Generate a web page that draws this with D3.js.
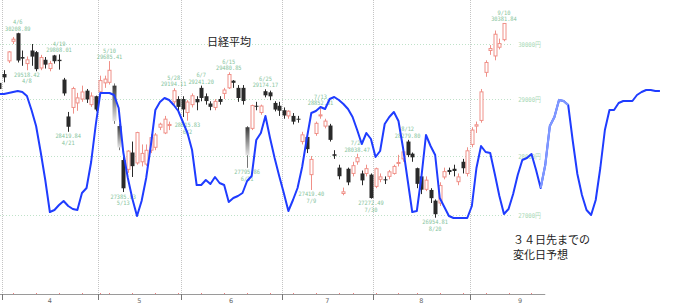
<!DOCTYPE html>
<html><head><meta charset="utf-8">
<script src="https://cdn.jsdelivr.net/npm/d3@7"></script>
<style>html,body{margin:0;padding:0;background:#fff;} svg{display:block;}</style>
</head><body>
<svg id="chart" width="690" height="307"></svg>
<script>
// ---- data ----
const dates = ["2021-03-31","2021-04-01","2021-04-02","2021-04-05","2021-04-06","2021-04-07","2021-04-08","2021-04-09","2021-04-12","2021-04-13","2021-04-14","2021-04-15","2021-04-16","2021-04-19","2021-04-20","2021-04-21","2021-04-22","2021-04-23","2021-04-26","2021-04-27","2021-04-28","2021-04-30",
"2021-05-06","2021-05-07","2021-05-10","2021-05-11","2021-05-12","2021-05-13","2021-05-14","2021-05-17","2021-05-18","2021-05-19","2021-05-20","2021-05-21","2021-05-24","2021-05-25","2021-05-26","2021-05-27","2021-05-28","2021-05-31",
"2021-06-01","2021-06-02","2021-06-03","2021-06-04","2021-06-07","2021-06-08","2021-06-09","2021-06-10","2021-06-11","2021-06-14","2021-06-15","2021-06-16","2021-06-17","2021-06-18","2021-06-21","2021-06-22","2021-06-23","2021-06-24","2021-06-25","2021-06-28","2021-06-29","2021-06-30",
"2021-07-01","2021-07-02","2021-07-05","2021-07-06","2021-07-07","2021-07-08","2021-07-09","2021-07-12","2021-07-13","2021-07-14","2021-07-15","2021-07-16","2021-07-19","2021-07-20","2021-07-21","2021-07-26","2021-07-27","2021-07-28","2021-07-29","2021-07-30",
"2021-08-02","2021-08-03","2021-08-04","2021-08-05","2021-08-06","2021-08-10","2021-08-11","2021-08-12","2021-08-13","2021-08-16","2021-08-17","2021-08-18","2021-08-19","2021-08-20","2021-08-23","2021-08-24","2021-08-25","2021-08-26","2021-08-27","2021-08-30","2021-08-31",
"2021-09-01","2021-09-02","2021-09-03","2021-09-06","2021-09-07","2021-09-08","2021-09-09","2021-09-10"];
const opens = [29290,29450,29690,30050,30200,29760,29640,29880,29850,29560,29710,29550,29790,29710,29350,28690,28850,28930,29000,29150,28900,29050,
29130,29290,29300,29240,28520,27930,27770,28060,27880,27900,27860,28100,28150,28500,28400,28530,28950,29000,
29000,28760,28900,29000,29200,29050,28920,28850,29000,29100,29200,29330,29200,29200,28500,28480,28880,28760,29140,29120,28930,28880,
28800,28700,28700,28650,28250,28330,27680,28390,28700,28520,28530,28030,27800,27360,27780,27700,27900,27700,27700,27680,
27480,27600,27600,27650,27700,27880,27950,28250,28040,27790,27650,27430,27420,27240,27200,27640,27760,27780,27560,27900,27700,
28200,28520,28620,29480,29880,29780,29940,30080];
const highs = [29360,29520,29870,30130,30208.89,29880,29770,30000,29870,29800,29760,29690,29800,29808.01,29380,28770,29220,29110,29240,29180,29120,29060,
29420,29420,29685.41,29280,28560,27990,28100,28250,28420,28200,28200,28380,28400,28580,28700,28600,29194.11,29050,
29050,28980,29100,29050,29241.20,29100,28960,29000,29050,29200,29480.85,29340,29250,29250,28520,28900,28950,28900,29174.17,29150,28960,28950,
28850,28800,28750,28700,28420,28400,28000,28600,28852.31,28650,28560,28100,27850,27460,27800,27900,28038.47,27750,27850,27700,
27800,27700,27650,27760,27850,28020,28100,28279.80,28060,27800,27700,27650,27450,27260,27550,27800,27800,27850,27700,27950,28150,
28500,28600,29180,29700,29980,30250,30100,30381.84];
const lows = [29170,29300,29650,30000,29660,29600,29518.42,29600,29500,29520,29550,29500,29640,29530,29060,28419.84,28740,28790,28950,28930,28860,28780,
29040,29200,29260,28560,28100,27385.03,27710,27640,27850,27820,27830,28050,28100,28450,28380,28450,28900,28780,
28680,28615.83,28850,28800,28960,28900,28800,28800,28900,29000,29180,29200,28950,28900,27795.86,28450,28800,28720,29030,28980,28780,28700,
28650,28650,28550,28580,28200,28050,27419.40,28350,28650,28480,28250,27950,27600,27330,27500,27650,27850,27500,27650,27272.49,
27450,27550,27520,27600,27680,27820,27900,27980,27900,27450,27350,27400,27200,26954.81,27150,27600,27680,27650,27500,27700,27650,
28150,28400,28580,29400,29800,29700,29900,30050];
const closes = [29178.80,29388.87,29854.00,30089.25,29696.63,29730.79,29708.98,29768.06,29538.73,29751.61,29620.99,29642.69,29683.37,29685.37,29100.38,28508.55,29188.17,29020.63,29126.23,28991.89,29053.97,28812.63,
29331.37,29357.82,29518.34,28608.59,28147.51,27448.01,28084.47,27824.83,28406.84,28044.45,28098.25,28317.83,28364.61,28553.98,28642.19,28549.01,29149.41,28860.08,
28814.34,28946.14,29058.11,28941.52,29019.24,28963.56,28860.80,28958.56,28948.73,29161.80,29441.30,29291.01,29018.33,28964.08,28010.93,28884.13,28874.89,28875.23,29066.18,29048.02,28812.61,28791.53,
28707.04,28783.28,28598.19,28643.21,28366.95,28118.03,27940.42,28569.02,28718.24,28608.49,28279.09,28003.08,27652.74,27388.16,27548.00,27833.29,27970.22,27581.66,27782.42,27283.59,
27781.02,27641.83,27584.08,27728.12,27820.04,27888.15,28070.51,28015.02,27977.15,27523.19,27424.47,27585.91,27281.17,27013.25,27494.24,27732.10,27724.80,27742.29,27641.14,27789.29,28089.54,
28451.02,28543.51,29128.11,29659.89,29916.14,30181.21,30008.19,30381.84];

// sharp-drop days drawn with a fading body
const fadeDates = ["5/11","5/12","6/21"];

// forecast line (indicator units), from 3/31 through 34 weekdays after the last candle
const forecast = [126,126,127,128,129,128,124,110,94,68,40,8,10,15,19,14,11,10,27,32,58,95,
127,127,127,125,112,68,42,21,4,19,42,74,110,118,122,120,115,109,
98,87,70,35,35,40,36,43,37,35,18,22,24,27,39,44,80,87,104,82,62,44,
27,9,20,32,53,81,107,109,113,111,121,123,120,116,111,103,90,76,87,81,
63,69,96,103,108,99,72,40,8,9,43,85,74,65,22,13,4,2,2,2,2,
14,52,74,68,67,46,24,6,
11,26,45,60,62,66,50,32,55,94,103,120,119,115,79,46,25,10,5,20,52,90,110,110,117,119,119,119,125,128,130,130,129,129];
const forecastDays = 34;

const markDates = ["4/6","4/8","4/19","4/21","5/10","5/13","5/28","6/2","6/7","6/15","6/21","6/25","7/9","7/13","7/27","7/30","8/12","8/20","9/10"];
const markValues = [30208.89,29518.42,29808.01,28419.84,29685.41,27385.03,29194.11,28615.83,29241.20,29480.85,27795.86,29174.17,27419.40,28852.31,28038.47,27272.49,28279.80,26954.81,30381.84];
const markKinds = ["high","low","high","low","high","low","high","low","high","high","low","high","low","high","high","low","high","low","high"];

const priceLevels = [30000,29000,28000,27000];
const priceLabels = ["30000円","29000円","28000円","27000円"];
const monthLabels = ["4","5","6","7","8","9"];
const title = "日経平均";
const note = ["３４日先までの","変化日予想"];

// ---- layout ----
const svg = d3.select("#chart");
const parse = d3.timeParse("%Y-%m-%d");
const candleDates = dates.map(parse);
const future = [];
let d = d3.timeDay.offset(candleDates[candleDates.length-1], 1);
while (future.length < forecastDays) {
  if (d.getDay() !== 0 && d.getDay() !== 6) future.push(d);
  d = d3.timeDay.offset(d, 1);
}
const allDates = candleDates.concat(future);
const nAll = allDates.length;

const x = d3.scaleLinear().domain([0, nAll - 1]).range([-0.6, -0.6 + (nAll - 1) * 4.587]);
const y = d3.scaleLog().domain([27000, 30000]).range([215, 44]);
const yF = d3.scaleLinear().domain([0, 130]).range([220, 90]);

const axisY = 294;
const gridRight = x(112);
const axisRight = x(119);

const defs = svg.append("defs");
const grad = defs.append("linearGradient").attr("id", "fade").attr("x1", 0).attr("x2", 0).attr("y1", 0).attr("y2", 1);
grad.append("stop").attr("offset", 0).attr("stop-color", "#3a3a3a");
grad.append("stop").attr("offset", 1).attr("stop-color", "#e4e4e4");

// vertical month grid
const monthStart = [];
for (let i = 1; i < nAll; i++) {
  if (allDates[i].getMonth() !== allDates[i-1].getMonth()) monthStart.push(i);
}
const gV = svg.append("g");
monthStart.filter(i => x(i) < axisRight).forEach(i => {
  const xx = Math.round(x(i - 0.5)) + 0.5;
  gV.append("line").attr("x1", xx).attr("x2", xx).attr("y1", 0).attr("y2", axisY)
    .attr("stroke", "#c4c4c4").attr("stroke-dasharray", "1,1");
});

// horizontal price grid
const gH = svg.append("g");
priceLevels.forEach((p, k) => {
  const yy = Math.round(y(p)) + 0.5;
  gH.append("line").attr("x1", 0).attr("x2", gridRight).attr("y1", yy).attr("y2", yy)
    .attr("stroke", "#bfe2c9").attr("stroke-dasharray", "1,2");
  gH.append("text").attr("x", gridRight + 5).attr("y", yy + 2.5)
    .attr("font-family", "DejaVu Sans Mono").attr("font-size", 6.5)
    .attr("fill", "#a8d8b6").attr("textLength", 23).attr("lengthAdjust", "spacingAndGlyphs")
    .text(priceLabels[k]);
});

// title
svg.append("text").attr("x", 229).attr("y", 46).attr("text-anchor", "middle")
  .attr("font-family", "Noto Sans CJK JP").attr("font-size", 11).attr("fill", "#222").text(title);

// candles
const upColor = "#f09088", downColor = "#2a2a2a";
const dateKey = candleDates.map(t => (t.getMonth()+1) + "/" + t.getDate());
const gC = svg.append("g");
dates.forEach((_, i) => {
  const cx = Math.round(x(i)) + 0.5;
  const o = opens[i], c = closes[i], h = highs[i], l = lows[i];
  const up = c >= o;
  const fade = fadeDates.includes(dateKey[i]);
  const col = up ? upColor : (fade ? "#777" : downColor);
  gC.append("line").attr("x1", cx).attr("x2", cx).attr("y1", y(h)).attr("y2", y(l))
    .attr("stroke", col).attr("stroke-width", 1);
  const yTop = y(Math.max(o, c)), yBot = y(Math.min(o, c));
  const hgt = Math.max(1, yBot - yTop);
  if (up) {
    gC.append("rect").attr("x", cx - 1.5).attr("y", yTop).attr("width", 3).attr("height", hgt)
      .attr("fill", "#fff").attr("stroke", upColor).attr("stroke-width", 1);
  } else {
    gC.append("rect").attr("x", cx - 2).attr("y", yTop).attr("width", 4).attr("height", hgt)
      .attr("fill", fade ? "url(#fade)" : downColor);
  }
});

// high / low marks
const gL = svg.append("g").attr("font-family", "DejaVu Sans Mono").attr("font-size", 6)
  .attr("fill", "#86c49c").attr("text-anchor", "middle");
markDates.forEach((md, k) => {
  const i = dateKey.indexOf(md);
  const cx = x(i);
  const v = markValues[k];
  const valTxt = v.toFixed(2);
  const yy = y(v);
  let yVal, yDate;
  if (markKinds[k] === "high") { yVal = yy - 2; yDate = yVal - 6.5; }
  else { yVal = yy + 6.5; yDate = yVal + 6.5; }
  gL.append("text").attr("x", cx).attr("y", yVal).attr("textLength", valTxt.length * 3.2)
    .attr("lengthAdjust", "spacingAndGlyphs").text(valTxt);
  gL.append("text").attr("x", cx).attr("y", yDate).attr("textLength", md.length * 3.2)
    .attr("lengthAdjust", "spacingAndGlyphs").text(md);
});

// forecast line
const line = d3.line().x((v, i) => x(i)).y(v => yF(v));
svg.append("path").datum(forecast).attr("d", line).attr("fill", "none")
  .attr("stroke", "#1f3cff").attr("stroke-width", 2).attr("stroke-linejoin", "round");
const lightFrom = 118, lightTo = 124;
svg.append("path").datum(forecast.slice(lightFrom, lightTo + 1))
  .attr("d", d3.line().x((v, i) => x(i + lightFrom)).y(v => yF(v)))
  .attr("fill", "none").attr("stroke", "#7f98ff").attr("stroke-width", 2.2);

// axis
const gA = svg.append("g");
gA.append("line").attr("x1", 0).attr("x2", axisRight).attr("y1", axisY + 0.5).attr("y2", axisY + 0.5)
  .attr("stroke", "#9a9a9a");
for (let i = 1; i < nAll; i++) {
  if (x(i) > axisRight) break;
  if (allDates[i].getDay() < allDates[i-1].getDay()) {
    const xx = Math.round(x(i)) + 0.5;
    gA.append("line").attr("x1", xx).attr("x2", xx).attr("y1", axisY - 1).attr("y2", axisY)
      .attr("stroke", "#f08080");
  }
}
monthStart.filter(i => x(i) < axisRight).forEach(i => {
  const xx = Math.round(x(i - 0.5)) + 0.5;
  gA.append("line").attr("x1", xx).attr("x2", xx).attr("y1", axisY).attr("y2", axisY + 6)
    .attr("stroke", "#777");
});
monthLabels.forEach(m => {
  const idx = d3.range(nAll).filter(i => String(allDates[i].getMonth() + 1) === m);
  const cxm = x((idx[0] + idx[idx.length - 1]) / 2);
  gA.append("text").attr("x", cxm).attr("y", axisY + 9).attr("text-anchor", "middle")
    .attr("font-family", "DejaVu Sans").attr("font-size", 6.5).attr("fill", "#666").text(m);
});

// note
note.forEach((t, k) => {
  svg.append("text").attr("x", 513).attr("y", 244 + k * 15)
    .attr("font-family", "Noto Sans CJK JP").attr("font-size", 11).attr("fill", "#222").text(t);
});
</script>
</body></html>
